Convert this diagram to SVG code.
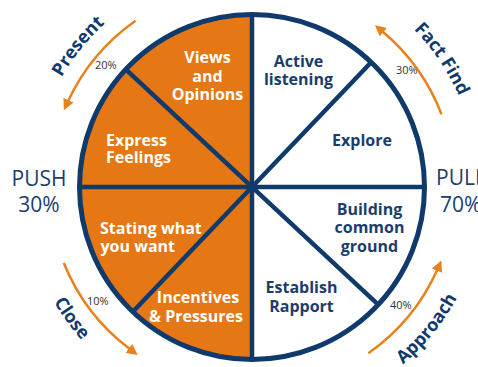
<svg xmlns="http://www.w3.org/2000/svg" width="478" height="367" viewBox="0 0 478 367">
  <style>
    .orange { fill: #E57714; }
    .white { fill: #FFFFFF; }
    .lbl { font-family: "Open Sans", "Noto Sans", "Liberation Sans", sans-serif; font-weight: 700; font-size: 16px; }
    .on-orange { fill: #FFFFFF; }
    .on-white { fill: #1B3D6C; }
    .pct { font-family: "Open Sans", "Noto Sans", "Liberation Sans", sans-serif; font-size: 11px; fill: #333333; }
    .side { font-family: "Open Sans", "Noto Sans", "Liberation Sans", sans-serif; font-size: 21px; fill: #1B3D6C; }
    .stage { font-family: "Open Sans", "Noto Sans", "Liberation Sans", sans-serif; font-weight: 700; font-size: 18px; fill: #0F3A6B; }
    .spoke { stroke: #0F3A6B; stroke-width: 4.5; fill: none; stroke-linecap: butt; }
    .rim { stroke: #0F3A6B; stroke-width: 5; fill: none; }
    .cycle { stroke: #E8821E; stroke-width: 2.5; fill: none; marker-end: url(#head); }
  </style>
  <defs>
    <marker id="head" viewBox="0 0 10 10" refX="1" refY="5" markerWidth="11" markerHeight="11" markerUnits="userSpaceOnUse" orient="auto">
      <path d="M0,0 L10,5 L0,10 Z" fill="#E8821E"/>
    </marker>
    <!-- baselines for the curved stage names -->
    <path id="arc-present" d="M32.8,167.8 A221,221 0 0 1 187.7,-23.4"/>
    <path id="arc-factfind" d="M336.7,-22.5 A226,226 0 0 1 478,187"/>
    <path id="arc-close" d="M23.1,195 A229,229 0 0 0 173.7,402.2"/>
    <path id="arc-approach" d="M320.1,409.8 A233,233 0 0 0 484.1,207.3"/>
  </defs>

  <!-- pull side (white wedges) -->
  <g id="active-listening">
    <path class="white" d="M252,187 L252,14.5 A172.5,172.5 0 0 1 371.2,62.3 Z"/>
    <text class="lbl on-white" text-anchor="middle"><tspan x="298.5" y="66.7">Active</tspan><tspan x="298.5" y="85">listening</tspan></text>
  </g>
  <g id="explore">
    <path class="white" d="M252,187 L371.2,62.3 A172.5,172.5 0 0 1 424.5,187 Z"/>
    <text class="lbl on-white" text-anchor="middle" x="362" y="145.7">Explore</text>
  </g>
  <g id="building-common-ground">
    <path class="white" d="M252,187 L424.5,187 A172.5,172.5 0 0 1 378.2,304.6 Z"/>
    <text class="lbl on-white" text-anchor="middle"><tspan x="369.5" y="215">Building</tspan><tspan x="369.5" y="233.3">common</tspan><tspan x="369.5" y="251.7">ground</tspan></text>
  </g>
  <g id="establish-rapport">
    <path class="white" d="M252,187 L378.2,304.6 A172.5,172.5 0 0 1 252,359.5 Z"/>
    <text class="lbl on-white" text-anchor="middle"><tspan x="301.5" y="293.3">Establish</tspan><tspan x="301.5" y="311.7">Rapport</tspan></text>
  </g>

  <!-- push side (orange wedges) -->
  <g id="incentives-pressures">
    <path class="orange" d="M252,187 L252,359.5 A172.5,172.5 0 0 1 132.8,311.7 Z"/>
    <text class="lbl on-orange" text-anchor="middle"><tspan x="198" y="303.3">Incentives</tspan><tspan x="196" y="321.7">&amp; Pressures</tspan></text>
  </g>
  <g id="stating-what-you-want">
    <path class="orange" d="M252,187 L132.8,311.7 A172.5,172.5 0 0 1 79.5,187 Z"/>
    <text class="lbl on-orange"><tspan x="100" y="234">Stating what</tspan><tspan x="100.5" y="251.7">you want</tspan></text>
  </g>
  <g id="express-feelings">
    <path class="orange" d="M252,187 L79.5,187 A172.5,172.5 0 0 1 125.8,69.4 Z"/>
    <text class="lbl on-orange"><tspan x="106" y="145.7">Express</tspan><tspan x="106" y="163.3">Feelings</tspan></text>
  </g>
  <g id="views-opinions">
    <path class="orange" d="M252,187 L125.8,69.4 A172.5,172.5 0 0 1 252,14.5 Z"/>
    <text class="lbl on-orange" text-anchor="middle"><tspan x="207.5" y="63">Views</tspan><tspan x="207.5" y="81.7">and</tspan><tspan x="207.5" y="99.5">Opinions</tspan></text>
  </g>

  <!-- dividers and outline -->
  <g id="wheel-frame">
    <line class="spoke" x1="252" y1="14.5" x2="252" y2="359.5"/>
    <line class="spoke" x1="79.5" y1="187" x2="424.5" y2="187"/>
    <line class="spoke" x1="125.8" y1="69.4" x2="378.2" y2="304.6"/>
    <line class="spoke" x1="371.2" y1="62.3" x2="132.8" y2="311.7"/>
    <circle class="rim" cx="252" cy="187" r="172.5"/>
  </g>

  <!-- percentages at the divider ends -->
  <g id="percentages">
    <text class="pct" x="95" y="69">20%</text>
    <text class="pct" x="396" y="74">30%</text>
    <text class="pct" x="87" y="305">10%</text>
    <text class="pct" x="390" y="309">40%</text>
  </g>

  <!-- push / pull totals -->
  <g id="push">
    <text class="side" text-anchor="middle"><tspan x="39" y="186">PUSH</tspan><tspan x="39" y="212">30%</tspan></text>
  </g>
  <g id="pull">
    <text class="side"><tspan x="436" y="185">PULL</tspan><tspan x="440" y="212">70%</tspan></text>
  </g>

  <!-- cycle arrows round the wheel -->
  <g id="connectors">
    <path class="cycle" d="M135.6,20.7 A203,203 0 0 0 68,101.2"/>
    <path class="cycle" d="M441.5,114.2 A203,203 0 0 0 382.5,31.5"/>
    <path class="cycle" d="M63.8,263 A203,203 0 0 0 129.8,349.1"/>
    <path class="cycle" d="M368.4,353.3 A203,203 0 0 0 437.4,269.6"/>
  </g>

  <!-- stage names -->
  <g id="stages">
    <text class="stage" text-anchor="middle"><textPath href="#arc-present" startOffset="50%">Present</textPath></text>
    <text class="stage" text-anchor="middle"><textPath href="#arc-factfind" startOffset="50%">Fact Find</textPath></text>
    <text class="stage" text-anchor="middle"><textPath href="#arc-close" startOffset="50%">Close</textPath></text>
    <text class="stage" text-anchor="middle"><textPath href="#arc-approach" startOffset="50%">Approach</textPath></text>
  </g>
</svg>
